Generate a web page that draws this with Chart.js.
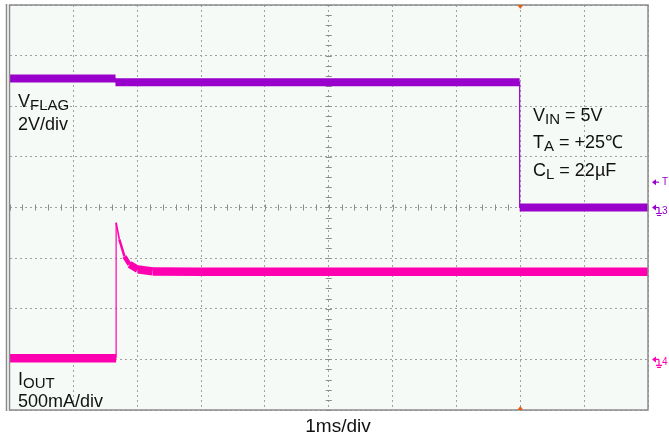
<!DOCTYPE html>
<html lang="en">
<head>
  <meta charset="UTF-8">
  <title>VFLAG / IOUT turn-on</title>
  <script src="https://cdn.jsdelivr.net/npm/chart.js"></script>
  <style>
    html, body { margin: 0; padding: 0; background: #fff; }
    #wrap { width: 669px; height: 439px; }
  </style>
</head>
<body>
  <div id="wrap"><canvas id="scope" width="669" height="439"></canvas></div>

  <script>
    // time axis: 1ms/div, 10 divisions
    const timeMin = 0, timeMax = 10;

    // channel 3: VFLAG, 2V/div, ground on the centre line
    const vflagTime  = [0, 1.66, 1.66, 7.99, 7.99, 10];
    const vflagVolts = [5.1, 5.1, 4.95, 4.95, 0, 0];

    // channel 4: IOUT, 500mA/div, ground one division above the bottom
    const ioutTime      = [0, 1.67, 1.67, 1.72, 1.80, 1.88, 2.01, 2.24, 3.0, 10];
    const ioutMilliamps = [10, 10, 1350, 1185, 1017, 938, 889, 869, 865, 865];

    const vflagRange = [-8, 8];       // 8 div * 2V
    const ioutRange  = [-500, 3500];  // 8 div * 500mA
    const triggerTime = 8;
    const triggerLevel = 1;           // V on VFLAG

    const PURPLE = '#9900cc', PINK = '#ff00b0', ORANGE = '#e0601c';

    const toPoints = (xs, ys) => xs.map((x, i) => ({ x, y: ys[i] }));
    // the noise band keeps its vertical height, so steep parts get a thinner stroke
    const bandWidth = thick => ctx => {
      const dx = ctx.p1.x - ctx.p0.x, dy = ctx.p1.y - ctx.p0.y;
      const len = Math.hypot(dx, dy) || 1;
      return Math.max(1.2, thick * Math.abs(dx) / len);
    };

    function subText(ctx, x, y, main, sub, rest) {
      ctx.font = '18px "Liberation Sans", Arial, sans-serif';
      ctx.fillText(main, x, y);
      x += ctx.measureText(main).width;
      ctx.font = '15px "Liberation Sans", Arial, sans-serif';
      ctx.fillText(sub, x, y + 3);
      x += ctx.measureText(sub).width;
      if (rest) {
        ctx.font = '18px "Liberation Sans", Arial, sans-serif';
        ctx.fillText(rest, x, y);
      }
    }

    const scopeDeco = {
      id: 'scopeDeco',
      beforeDraw(chart) {
        const { ctx, chartArea: a } = chart;
        ctx.save();
        ctx.fillStyle = '#f6faf6';
        ctx.fillRect(a.left, a.top, a.right - a.left, a.bottom - a.top);
        ctx.restore();
      },
      beforeDatasetsDraw(chart) {
        // minor ticks on the centre cross
        const { ctx, scales } = chart;
        const xs = scales.x, ys = scales.yV;
        const y0 = ys.getPixelForValue(0), x0 = xs.getPixelForValue(5);
        ctx.save();
        ctx.strokeStyle = '#8c8c8c';
        ctx.lineWidth = 1;
        ctx.beginPath();
        for (let t = 0; t <= 10.001; t += 0.2) {
          const px = Math.round(xs.getPixelForValue(t)) + 0.5;
          ctx.moveTo(px, y0 - 3); ctx.lineTo(px, y0 + 3);
        }
        for (let v = -8; v <= 8.001; v += 0.4) {
          const py = Math.round(ys.getPixelForValue(v)) + 0.5;
          ctx.moveTo(x0 - 3, py); ctx.lineTo(x0 + 3, py);
        }
        ctx.stroke();
        ctx.restore();
      },
      afterDraw(chart) {
        const { ctx, chartArea: a, scales } = chart;
        ctx.save();
        // frame
        ctx.strokeStyle = '#8a8a8a';
        ctx.lineWidth = 1.5;
        ctx.strokeRect(a.left, a.top, a.right - a.left, a.bottom - a.top);
        ctx.beginPath();
        ctx.moveTo(a.left - 3, a.top - 1); ctx.lineTo(a.left - 3, a.bottom + 1);
        ctx.stroke();

        // trigger position markers
        const tx = scales.x.getPixelForValue(triggerTime);
        ctx.fillStyle = ORANGE;
        ctx.beginPath();
        ctx.moveTo(tx - 3, a.top); ctx.lineTo(tx + 3, a.top); ctx.lineTo(tx, a.top + 4);
        ctx.fill();
        ctx.beginPath();
        ctx.moveTo(tx - 3, a.bottom); ctx.lineTo(tx + 3, a.bottom); ctx.lineTo(tx, a.bottom - 4);
        ctx.fill();

        // channel markers on the right
        const marker = (y, color, label, ground) => {
          const x = a.right + 5;
          ctx.strokeStyle = color; ctx.fillStyle = color; ctx.lineWidth = 1.2;
          ctx.beginPath();
          ctx.moveTo(x, y); ctx.lineTo(x + 6, y); ctx.stroke();
          ctx.beginPath();
          ctx.moveTo(x - 1, y); ctx.lineTo(x + 3, y - 3); ctx.lineTo(x + 3, y + 3); ctx.fill();
          if (ground) {
            ctx.beginPath();
            ctx.moveTo(x + 6, y); ctx.lineTo(x + 6, y + 6);
            ctx.moveTo(x + 3, y + 6); ctx.lineTo(x + 9, y + 6);
            ctx.moveTo(x + 4, y + 8); ctx.lineTo(x + 8, y + 8);
            ctx.stroke();
          }
          ctx.font = '10px "Liberation Sans", Arial, sans-serif';
          ctx.fillText(label, x + 9, y + (ground ? 6 : 3));
        };
        marker(scales.yV.getPixelForValue(triggerLevel), PURPLE, 'T', false);
        marker(scales.yV.getPixelForValue(0), PURPLE, '3', true);
        marker(scales.yI.getPixelForValue(0), PINK, '4', true);

        // labels
        ctx.fillStyle = '#111';
        ctx.textBaseline = 'alphabetic';
        subText(ctx, 18, 107, 'V', 'FLAG');
        ctx.font = '18px "Liberation Sans", Arial, sans-serif';
        ctx.fillText('2V/div', 18, 130);
        subText(ctx, 18, 385, 'I', 'OUT');
        ctx.font = '18px "Liberation Sans", Arial, sans-serif';
        ctx.fillText('500mA/div', 18, 407);

        subText(ctx, 533, 121, 'V', 'IN', ' = 5V');
        subText(ctx, 533, 148, 'T', 'A', ' = +25\u2103');
        subText(ctx, 533, 176, 'C', 'L', ' = 22\u00b5F');

        ctx.font = '19px "Liberation Sans", Arial, sans-serif';
        ctx.textAlign = 'center';
        ctx.fillText('1ms/div', 338, 432);
        ctx.restore();
      }
    };

    const gridOpts = { color: '#a0a0a0', lineWidth: 1, drawTicks: false };

    new Chart(document.getElementById('scope'), {
      type: 'line',
      data: {
        datasets: [
          {
            label: 'VFLAG',
            data: toPoints(vflagTime, vflagVolts),
            yAxisID: 'yV',
            borderColor: PURPLE,
            borderWidth: 8,
            borderJoinStyle: 'round',
            segment: { borderWidth: bandWidth(8) }
          },
          {
            label: 'IOUT',
            data: toPoints(ioutTime, ioutMilliamps),
            yAxisID: 'yI',
            borderColor: PINK,
            borderWidth: 8,
            borderJoinStyle: 'round',
            segment: { borderWidth: bandWidth(8.5) }
          }
        ]
      },
      options: {
        responsive: false,
        animation: false,
        layout: { padding: { left: 9.5, top: 5, right: 21, bottom: 29 } },
        plugins: { legend: { display: false }, tooltip: { enabled: false } },
        elements: { point: { radius: 0 }, line: { tension: 0, fill: false } },
        scales: {
          x: {
            type: 'linear', min: timeMin, max: timeMax,
            ticks: { display: false, stepSize: 1 },
            grid: gridOpts,
            border: { display: false, dash: [2, 3] }
          },
          yV: {
            type: 'linear', position: 'left', min: vflagRange[0], max: vflagRange[1],
            ticks: { display: false, stepSize: 2 },
            grid: gridOpts,
            border: { display: false, dash: [2, 3] }
          },
          yI: {
            type: 'linear', display: false, min: ioutRange[0], max: ioutRange[1]
          }
        }
      },
      plugins: [scopeDeco]
    });
  </script>
</body>
</html>
